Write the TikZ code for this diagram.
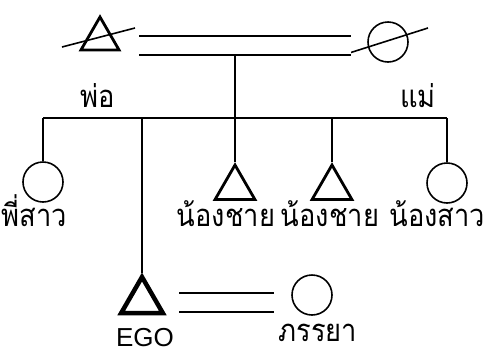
\documentclass[tikz,border=0pt]{standalone}
\usepackage{fontspec}
\setmainfont{Liberation Sans}
\newfontfamily\thaifont[Script=Thai, FakeStretch=0.88]{Loma}
\usetikzlibrary{shapes.geometric}

\begin{document}
\begin{tikzpicture} [
    x = 1pt, y = -1pt,
    line width = 1.6pt,
    male/.style = { draw, regular polygon, regular polygon sides = 3, inner sep = 0, line width = 2.8pt },
    female/.style = { draw, circle, minimum size = 40pt, inner sep = 0 },
    marriage/.style = { double, double distance = 17.4pt },
    kin/.style = { font = \thaifont\fontsize{31}{36}\selectfont, inner sep = 0, anchor = base }
    ]
    \useasboundingbox (0,0) rectangle (487,354);

    % parents
    \node[male, minimum size = 44pt] (father) at (100,39) {};
    \node[female] (mother) at (388,42) {};
    \draw (father.center) ++(-38,8) -- ++(73,-19);
    \draw (mother.center) ++(-45,13) -- ++(85,-27);
    \path (father.east) ++(25,6.5) coordinate (m1) (mother.west |- m1) ++(-16,0) coordinate (m2);
    \draw[marriage] (m1) -- (m2);
    \node[kin] (lfather) at (98,107) {พ่อ};
    \node[kin] (lmother) at (418,107) {แม่};

    % siblings
    \coordinate (bar) at (0,118);
    \node[female] (sis1) at (43,182) {};
    \node[male, minimum size = 46pt] (bro1) at (235,188) {};
    \node[male, minimum size = 46pt] (bro2) at (332,188) {};
    \node[female] (sis2) at (447,183) {};
    \node[male, minimum size = 48pt, line width = 4.5pt] (ego) at (142,301) {};
    \draw (sis1.north |- bar) -- (sis2.north |- bar);
    \draw (bro1.corner 1 |- m1) ++(0,9.5) -- (bro1.corner 1);
    \foreach \n in {sis1, sis2} \draw (\n.north) -- (\n.north |- bar);
    \foreach \n in {bro2, ego} \draw (\n.corner 1) -- (\n.corner 1 |- bar);
    \node[kin, anchor = base west] (lsis1) at (1,226) {พี่สาว};
    \node[kin] (lbro1) at (226,226) {น้องชาย};
    \node[kin] (lbro2) at (330,226) {น้องชาย};
    \node[kin, anchor = base east] (lsis2) at (486,226) {น้องสาว};

    % ego and wife
    \node[font = \fontsize{26}{30}\selectfont, inner sep = 0, anchor = base] (lego) at (145,346) {EGO};
    \node[female] (wife) at (312,295) {};
    \path (ego.east) ++(21,1.5) coordinate (m3) (wife.west |- m3) ++(-17,0) coordinate (m4);
    \draw[marriage] (m3) -- (m4);
    \node[kin] (lwife) at (318,341) {ภรรยา};
\end{tikzpicture}
\end{document}
